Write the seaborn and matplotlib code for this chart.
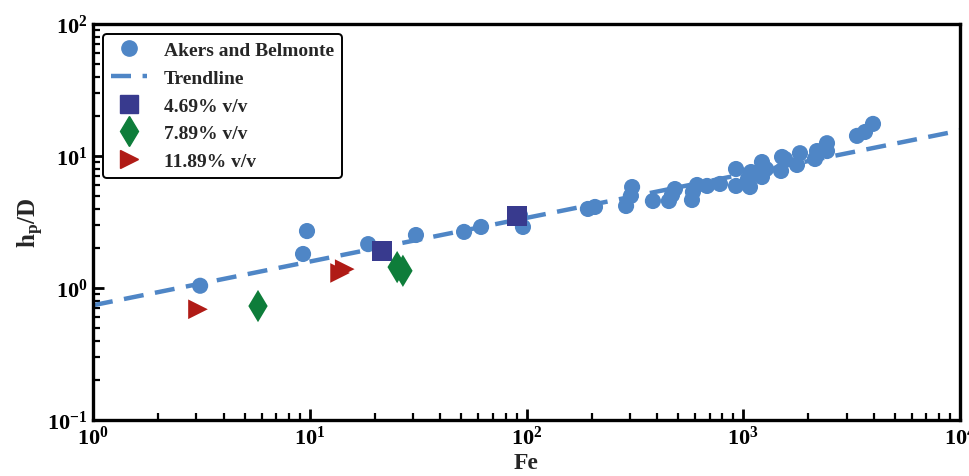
import numpy as np
import pandas as pd
import matplotlib
matplotlib.use("Agg")
import matplotlib.pyplot as plt
import seaborn as sns
from matplotlib.lines import Line2D
from matplotlib.ticker import LogLocator, NullFormatter

# ---- data ----
akers_fe = [3.12, 9.31, 9.71, 18.6, 30.9, 51.5, 61.7, 96.3, 93.3, 192, 207, 288, 303, 307,
            383, 454, 469, 484, 580, 586, 612, 681, 781, 926, 926, 1052, 1074, 1086,
            1220, 1220, 1274, 1510, 1494, 1558, 1770, 1827, 2143, 2189, 2434, 2434,
            3348, 3645, 3968]
akers_h = [1.04, 1.81, 2.70, 2.15, 2.52, 2.66, 2.90, 2.90, 3.57, 3.97, 4.11, 4.18, 4.98, 5.82,
           4.56, 4.56, 5.06, 5.62, 4.64, 5.34, 6.03, 5.93, 6.14, 5.93, 7.97, 6.70, 5.82, 7.56,
           9.00, 6.93, 7.97, 9.83, 7.70, 9.49, 8.55, 10.5, 9.49, 10.9, 12.5, 10.9,
           14.2, 15.2, 17.5]
trend_fe = [1.0, 10000.0]
trend_h = [0.74, 15.6]
s469_fe = [21.5, 90.4]
s469_h = [1.91, 3.51]
s789_fe = [5.77, 25.3, 26.9]
s789_h = [0.73, 1.44, 1.35]
s1189_fe = [3.05, 13.8, 14.5]
s1189_h = [0.69, 1.30, 1.39]

labels = ["Akers and Belmonte", "Trendline", "4.69% v/v", "7.89% v/v", "11.89% v/v"]

c_blue = "#4F86C6"
c_sq = "#383A8E"
c_green = "#0E7D3A"
c_red = "#B01B16"

sns.set_style("white")
plt.rcParams["font.family"] = ["Liberation Serif", "DejaVu Serif"]
plt.rcParams["font.weight"] = "bold"
plt.rcParams["axes.labelweight"] = "bold"
plt.rcParams["mathtext.fontset"] = "custom"
plt.rcParams["mathtext.rm"] = "Liberation Serif:bold"
plt.rcParams["mathtext.it"] = "Liberation Serif:bold"
plt.rcParams["mathtext.bf"] = "Liberation Serif:bold"
plt.rcParams["mathtext.default"] = "rm"

fig = plt.figure(figsize=(9.69, 4.77), dpi=100)
ax = fig.add_axes([0.096, 0.1174, 0.8947, 0.8302])

sns.lineplot(x=trend_fe, y=trend_h, ax=ax, color=c_blue, lw=3.2,
             linestyle=(0, (4.5, 2.6)), zorder=2)
sns.scatterplot(x=akers_fe, y=akers_h, ax=ax, color=c_blue, marker="o", s=135,
                edgecolor="none", zorder=3)
sns.scatterplot(x=s469_fe, y=s469_h, ax=ax, color=c_sq, marker="s", s=200,
                edgecolor="none", zorder=4)
sns.scatterplot(x=s789_fe, y=s789_h, ax=ax, color=c_green, marker="d", s=270,
                edgecolor="none", zorder=4)
sns.scatterplot(x=s1189_fe, y=s1189_h, ax=ax, color=c_red, marker=">", s=200,
                edgecolor="none", zorder=4)

ax.set_xscale("log")
ax.set_yscale("log")
ax.set_xlim(1, 1e4)
ax.set_ylim(0.1, 100)

for sp in ax.spines.values():
    sp.set_linewidth(2.4)
    sp.set_color("black")

ax.xaxis.set_major_locator(LogLocator(base=10, numticks=10))
ax.yaxis.set_major_locator(LogLocator(base=10, numticks=10))
ax.xaxis.set_minor_locator(LogLocator(base=10, subs=np.arange(2, 10), numticks=20))
ax.yaxis.set_minor_locator(LogLocator(base=10, subs=np.arange(2, 10), numticks=20))
ax.xaxis.set_minor_formatter(NullFormatter())
ax.yaxis.set_minor_formatter(NullFormatter())
ax.tick_params(which="both", direction="in", top=False, right=False,
               bottom=True, left=True, colors="black")
ax.tick_params(which="major", length=8, width=2, labelsize=16, pad=4)
ax.tick_params(which="minor", length=5, width=1.6)

ax.set_xlabel("Fe", fontsize=17, fontweight="bold", labelpad=2)
ax.set_ylabel(r"$\mathdefault{h_p/D}$", fontsize=18, fontweight="bold", labelpad=1)

handles = [
    Line2D([], [], marker="o", color=c_blue, linestyle="none", markersize=11),
    Line2D([], [], color=c_blue, lw=3.2, linestyle=(0, (4.5, 2.6))),
    Line2D([], [], marker="s", color=c_sq, linestyle="none", markersize=13),
    Line2D([], [], marker="d", color=c_green, linestyle="none", markersize=15),
    Line2D([], [], marker=">", color=c_red, linestyle="none", markersize=13),
]
leg = ax.legend(handles, labels, loc="upper left", bbox_to_anchor=(0.0, 1.0),
                fontsize=14, frameon=True, fancybox=True, framealpha=1,
                edgecolor="black", handlelength=1.9, borderpad=0.4,
                labelspacing=0.52, handletextpad=0.85, borderaxespad=0.5)
leg.get_frame().set_linewidth(1.4)
leg.get_frame().set_boxstyle("round", pad=0.0, rounding_size=0.2)
for t in leg.get_texts():
    t.set_fontweight("bold")

fig.savefig("out.png", dpi=100)
